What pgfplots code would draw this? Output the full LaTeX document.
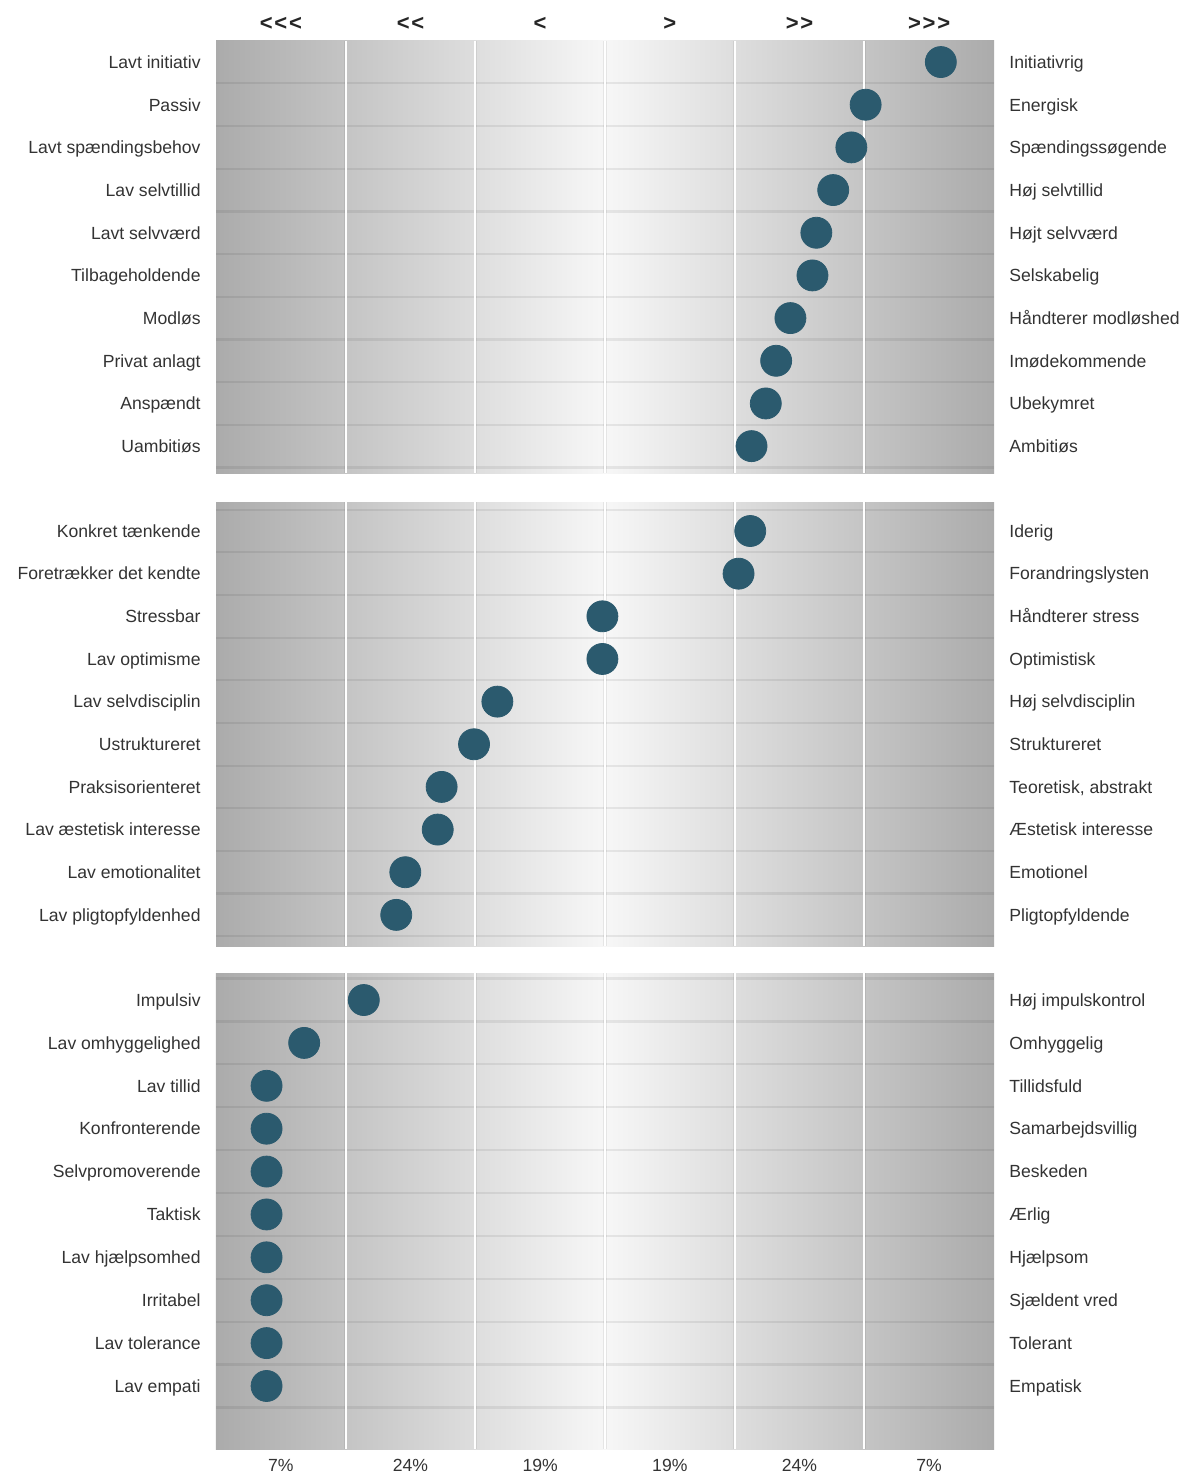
\documentclass[border=0pt]{standalone}
\usepackage{fontspec}
\setmainfont{Liberation Sans}
\usepackage{pgfplots}
\pgfplotsset{compat=1.18}
\definecolor{dot}{HTML}{2B5A6E}
\definecolor{edge}{HTML}{ABABAB}
\definecolor{mid}{HTML}{F7F7F7}
\definecolor{txt}{HTML}{333333}
\tikzset{lbl/.style={font=\fontsize{8.8}{10}\selectfont, text=txt, inner sep=0pt},
  arr/.style={font=\fontsize{11}{12}\selectfont\bfseries, text=black!85, inner sep=0pt, anchor=base, yshift=5.2pt}}
\pgfplotsset{panel/.style={
  scale only axis, width=389pt, xmin=0, xmax=6, y dir=reverse,
  axis line style={draw=none}, ticks=none, clip=false, anchor=north west}}
% background: #1 ymin, #2 ymax, #3 first horizontal line
\newcommand\bg[3]{%
  \fill[left color=edge,right color=mid,draw=none] (axis cs:0,#1) rectangle (axis cs:3,#2);
  \fill[left color=mid,right color=edge,draw=none] (axis cs:3,#1) rectangle (axis cs:6,#2);
  \pgfplotsinvokeforeach{#3,...,10.5}{\draw[black,opacity=0.07,line width=1.1pt] (axis cs:0,##1) -- (axis cs:6,##1);}
  \pgfplotsinvokeforeach{1,...,5}{%
    \draw[black,opacity=0.07,line width=1.8pt] (axis cs:##1,#1) -- (axis cs:##1,#2);
    \draw[white,line width=0.9pt] (axis cs:##1,#1) -- (axis cs:##1,#2);}
}
\newcommand\rl[3]{%
  \node[lbl,anchor=base east,yshift=-3.15pt] at (axis cs:-0.1157,#1) {#2};
  \node[lbl,anchor=base west,yshift=-3.15pt] at (axis cs:6.1157,#1) {#3};}
\pgfplotsset{dots/.style={only marks, mark=*, mark size=7.75pt, color=dot, mark options={draw=dot,fill=dot}}}
\begin{document}
\begin{tikzpicture}
\useasboundingbox (0,0) rectangle (590.5pt,-736.5pt);
% ---------- panel 1
\begin{axis}[panel, at={(108pt,-20.35pt)}, height=216.15pt, ymin=0.5, ymax=10.63]
\bg{0.5}{10.63}{1.5}
\addplot[dots] coordinates {(5.59,1) (5.01,2) (4.90,3) (4.76,4) (4.63,5) (4.60,6) (4.43,7) (4.32,8) (4.24,9) (4.13,10)};
\rl{1}{Lavt initiativ}{Initiativrig}
\rl{2}{Passiv}{Energisk}
\rl{3}{Lavt spændingsbehov}{Spændingssøgende}
\rl{4}{Lav selvtillid}{Høj selvtillid}
\rl{5}{Lavt selvværd}{Højt selvværd}
\rl{6}{Tilbageholdende}{Selskabelig}
\rl{7}{Modløs}{Håndterer modløshed}
\rl{8}{Privat anlagt}{Imødekommende}
\rl{9}{Anspændt}{Ubekymret}
\rl{10}{Uambitiøs}{Ambitiøs}
\node[arr] at (axis cs:0.5,0.5) {<\kern0.9pt<\kern0.9pt<};
\node[arr] at (axis cs:1.5,0.5) {<\kern0.9pt<};
\node[arr] at (axis cs:2.5,0.5) {<};
\node[arr] at (axis cs:3.5,0.5) {>};
\node[arr] at (axis cs:4.5,0.5) {>\kern0.9pt>};
\node[arr] at (axis cs:5.5,0.5) {>\kern0.9pt>\kern0.9pt>};
\end{axis}
% ---------- panel 2
\begin{axis}[panel, at={(108pt,-251pt)}, height=222pt, ymin=0.32, ymax=10.73]
\bg{0.32}{10.73}{0.5}
\addplot[dots] coordinates {(4.12,1) (4.03,2) (2.98,3) (2.98,4) (2.17,5) (1.99,6) (1.74,7) (1.71,8) (1.46,9) (1.39,10)};
\rl{1}{Konkret tænkende}{Iderig}
\rl{2}{Foretrækker det kendte}{Forandringslysten}
\rl{3}{Stressbar}{Håndterer stress}
\rl{4}{Lav optimisme}{Optimistisk}
\rl{5}{Lav selvdisciplin}{Høj selvdisciplin}
\rl{6}{Ustruktureret}{Struktureret}
\rl{7}{Praksisorienteret}{Teoretisk, abstrakt}
\rl{8}{Lav æstetisk interesse}{Æstetisk interesse}
\rl{9}{Lav emotionalitet}{Emotionel}
\rl{10}{Lav pligtopfyldenhed}{Pligtopfyldende}
\end{axis}
% ---------- panel 3
\begin{axis}[panel, at={(108pt,-486.5pt)}, height=238pt, ymin=0.37, ymax=11.47]
\bg{0.37}{11.47}{0.5}
\addplot[dots] coordinates {(1.14,1) (0.68,2) (0.39,3) (0.39,4) (0.39,5) (0.39,6) (0.39,7) (0.39,8) (0.39,9) (0.39,10)};
\rl{1}{Impulsiv}{Høj impulskontrol}
\rl{2}{Lav omhyggelighed}{Omhyggelig}
\rl{3}{Lav tillid}{Tillidsfuld}
\rl{4}{Konfronterende}{Samarbejdsvillig}
\rl{5}{Selvpromoverende}{Beskeden}
\rl{6}{Taktisk}{Ærlig}
\rl{7}{Lav hjælpsomhed}{Hjælpsom}
\rl{8}{Irritabel}{Sjældent vred}
\rl{9}{Lav tolerance}{Tolerant}
\rl{10}{Lav empati}{Empatisk}
\node[lbl,anchor=base,yshift=-11.3pt] at (axis cs:0.5,11.47) {7\%};
\node[lbl,anchor=base,yshift=-11.3pt] at (axis cs:1.5,11.47) {24\%};
\node[lbl,anchor=base,yshift=-11.3pt] at (axis cs:2.5,11.47) {19\%};
\node[lbl,anchor=base,yshift=-11.3pt] at (axis cs:3.5,11.47) {19\%};
\node[lbl,anchor=base,yshift=-11.3pt] at (axis cs:4.5,11.47) {24\%};
\node[lbl,anchor=base,yshift=-11.3pt] at (axis cs:5.5,11.47) {7\%};
\end{axis}
\end{tikzpicture}
\end{document}
